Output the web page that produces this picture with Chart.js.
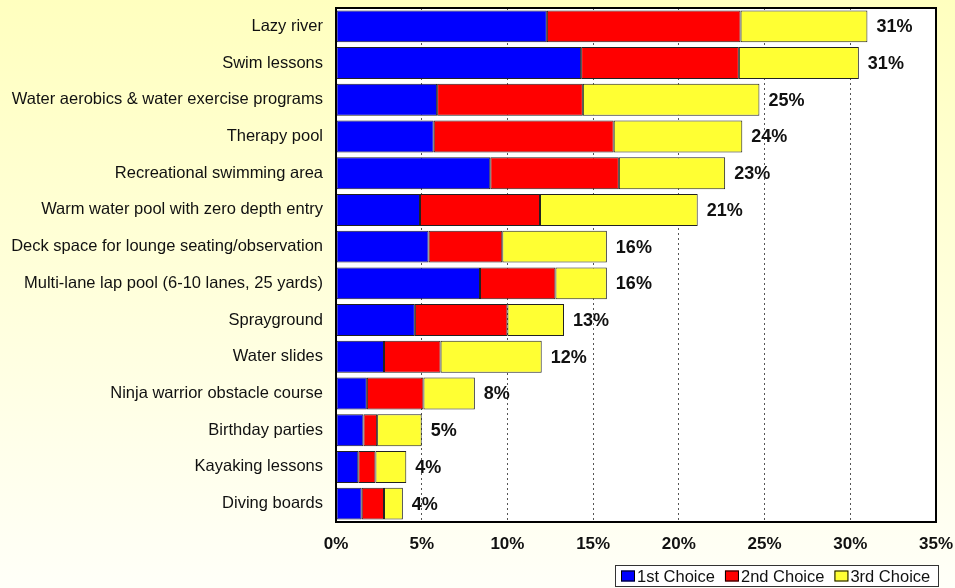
<!DOCTYPE html>
<html>
<head>
<meta charset="utf-8">
<script src="https://cdn.jsdelivr.net/npm/chart.js@4"></script>
<style>
  html, body { margin: 0; padding: 0; }
  #chart { display: block; }
</style>
</head>
<body>
<canvas id="chart" width="955" height="588"></canvas>
<script>
const FONT = "'Liberation Sans', Arial, sans-serif";

const categories = [
  "Lazy river",
  "Swim lessons",
  "Water aerobics & water exercise programs",
  "Therapy pool",
  "Recreational swimming area",
  "Warm water pool with zero depth entry",
  "Deck space for lounge seating/observation",
  "Multi-lane lap pool (6-10 lanes, 25 yards)",
  "Sprayground",
  "Water slides",
  "Ninja warrior obstacle course",
  "Birthday parties",
  "Kayaking lessons",
  "Diving boards",
];
const firstChoice = [12.3, 14.3, 5.9, 5.7, 9.0, 4.9, 5.4, 8.4, 4.6, 2.8, 1.8, 1.6, 1.3, 1.5];
const secondChoice = [11.3, 9.2, 8.5, 10.5, 7.5, 7.0, 4.3, 4.4, 5.4, 3.3, 3.3, 0.8, 1.0, 1.3];
const thirdChoice = [7.4, 7.0, 10.3, 7.5, 6.2, 9.2, 6.1, 3.0, 3.3, 5.9, 3.0, 2.6, 1.8, 1.1];
const totalLabels = ["31%", "31%", "25%", "24%", "23%", "21%", "16%", "16%", "13%", "12%", "8%", "5%", "4%", "4%"];
const xTicks = [0, 5, 10, 15, 20, 25, 30, 35];

const plotFrame = {
  id: "plotFrame",
  beforeDraw(chart) {
    const { ctx, width, height, chartArea: a } = chart;
    ctx.save();
    const g = ctx.createLinearGradient(0, 0, 0, height);
    g.addColorStop(0, "#ffffbf");
    g.addColorStop(1, "#fffff8");
    ctx.fillStyle = g;
    ctx.fillRect(0, 0, width, height);
    ctx.fillStyle = "#ffffff";
    ctx.fillRect(a.left, a.top, a.right - a.left, a.bottom - a.top);
    ctx.restore();
  },
  afterDatasetsDraw(chart) {
    const { ctx } = chart;
    const meta = chart.getDatasetMeta(2);
    ctx.save();
    ctx.font = "bold 18px " + FONT;
    ctx.fillStyle = "#111";
    ctx.textBaseline = "middle";
    meta.data.forEach((bar, i) => ctx.fillText(totalLabels[i], bar.x + 9, bar.y + 1));
    ctx.restore();
  },
  afterDraw(chart) {
    const { ctx, chartArea: a } = chart;
    ctx.save();
    ctx.lineWidth = 2;
    ctx.strokeStyle = "#000";
    ctx.strokeRect(a.left, a.top, a.right - a.left, a.bottom - a.top);

    // legend box, bottom right
    ctx.font = "16.5px " + FONT;
    const left = 615, right = 939, top = 565, bottom = 587;
    ctx.fillStyle = "#fff";
    ctx.fillRect(left, top, right - left, bottom - top);
    ctx.lineWidth = 1;
    ctx.strokeStyle = "#333";
    ctx.strokeRect(left + 0.5, top + 0.5, right - left - 1, bottom - top - 1);
    const boxW = 14, boxH = 11, gap = 2, itemGap = 10;
    let x = left + 6;
    const cy = (top + bottom) / 2;
    ctx.textBaseline = "middle";
    chart.data.datasets.forEach((ds) => {
      ctx.fillStyle = ds.backgroundColor;
      ctx.fillRect(x, cy - boxH / 2, boxW, boxH);
      ctx.strokeStyle = "#000";
      ctx.strokeRect(x + 0.5, cy - boxH / 2 + 0.5, boxW - 1, boxH - 1);
      ctx.fillStyle = "#111";
      ctx.fillText(ds.label, x + boxW + gap, cy + 1);
      x += boxW + gap + ctx.measureText(ds.label).width + itemGap;
    });
    ctx.restore();
  },
};

const barStyle = {
  borderWidth: 1,
  borderColor: "#222",
  borderSkipped: false,
  barPercentage: 0.87,
  categoryPercentage: 1,
};

new Chart(document.getElementById("chart"), {
  type: "bar",
  data: {
    labels: categories,
    datasets: [
      { label: "1st Choice", data: firstChoice, backgroundColor: "#0000ff", ...barStyle },
      { label: "2nd Choice", data: secondChoice, backgroundColor: "#ff0000", ...barStyle },
      { label: "3rd Choice", data: thirdChoice, backgroundColor: "#ffff33", ...barStyle },
    ],
  },
  options: {
    indexAxis: "y",
    responsive: false,
    animation: false,
    layout: { padding: { top: 8, right: 19, bottom: 0, left: 0 } },
    plugins: { legend: { display: false }, tooltip: { enabled: false } },
    scales: {
      x: {
        type: "linear",
        stacked: true,
        min: 0,
        max: 35,
        afterBuildTicks: (scale) => {
          scale.ticks = xTicks.map((v) => ({ value: v }));
        },
        afterFit: (scale) => {
          scale.height = 66;
          scale.paddingLeft = 0;
          scale.paddingRight = 0;
        },
        ticks: {
          callback: (v) => v + "%",
          font: { family: FONT, size: 17, weight: "bold" },
          color: "#111",
          padding: 12,
          maxRotation: 0,
        },
        grid: { color: "#555", lineWidth: 1, drawTicks: false },
        border: { display: false, dash: [2, 3] },
      },
      y: {
        stacked: true,
        afterFit: (scale) => {
          scale.width = 336;
          scale.paddingTop = 0;
          scale.paddingBottom = 0;
        },
        ticks: {
          font: { family: FONT, size: 16.5 },
          color: "#111",
          padding: 13,
        },
        grid: { display: false, drawTicks: false },
        border: { display: false },
      },
    },
  },
  plugins: [plotFrame],
});
</script>
</body>
</html>
